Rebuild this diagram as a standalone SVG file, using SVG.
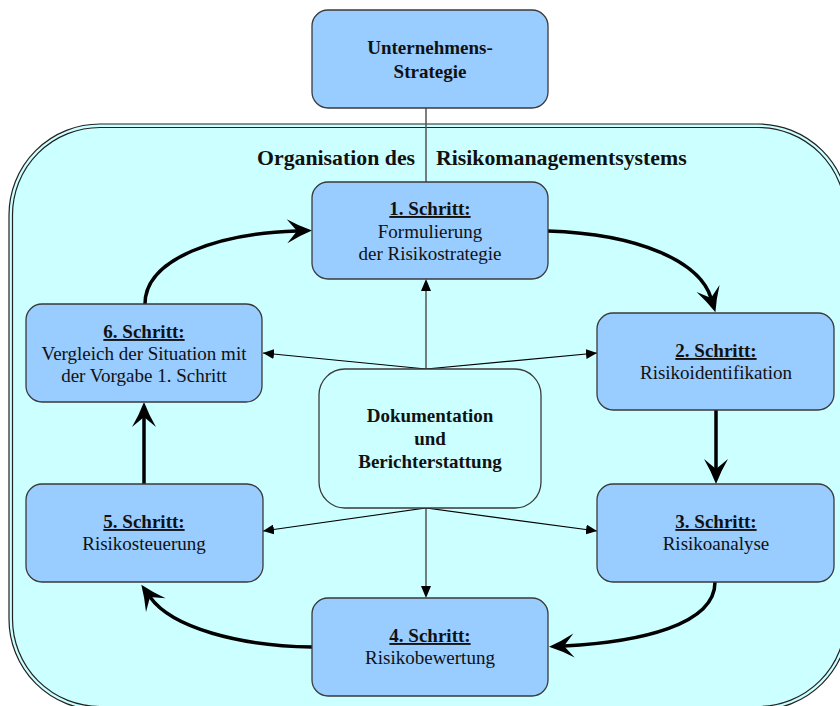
<svg xmlns="http://www.w3.org/2000/svg" width="840" height="706" viewBox="0 0 840 706">
<style>
.box{fill:#99CCFF;stroke:#3a3a3a;stroke-width:1.3}
.doc{fill:#CCFFFF;stroke:#3a3a3a;stroke-width:1.3}
text{font-family:"Liberation Serif","Times New Roman",serif;font-size:19px;fill:#111;text-anchor:middle}
.b{font-weight:bold}
.u{font-weight:bold;text-decoration:underline}
.title{font-weight:bold;font-size:21.8px;text-anchor:start}
.thick{fill:none;stroke:#000;stroke-width:3.5;marker-end:url(#big)}
.thin{fill:none;stroke:#000;stroke-width:1.2;marker-end:url(#small)}
.gray{fill:none;stroke:#555;stroke-width:1.5}
</style>
<defs>
<marker id="big" viewBox="-11 -13 27 26" refX="0" refY="0" markerWidth="27" markerHeight="26" markerUnits="userSpaceOnUse" orient="auto">
<path d="M15,0 Q2,-5 -10,-12 L0,0 L-10,12 Q2,5 15,0 Z" fill="#000"/>
</marker>
<marker id="small" viewBox="0 -5 11 10" refX="11" refY="0" markerWidth="11" markerHeight="10" markerUnits="userSpaceOnUse" orient="auto">
<path d="M0,-5 L11,0 L0,5 Z" fill="#000"/>
</marker>
</defs>
<rect width="840" height="706" fill="#fff"/>
<g id="container">
<rect x="9" y="124" width="840" height="586" rx="91" ry="91" fill="#CCFFFF" stroke="#222" stroke-width="1.2"/>
<rect x="12.5" y="127.5" width="833" height="579" rx="87.5" ry="87.5" fill="none" stroke="#222" stroke-width="1.2"/>
<text class="title" x="257" y="165">Organisation des</text>
<text class="title" x="436" y="165">Risikomanagementsystems</text>
</g>
<g id="connectors">
<line class="gray" x1="426" y1="108" x2="426" y2="182"/>
<line class="gray" x1="426" y1="369" x2="426" y2="290" />
<path d="M426,279 L421,291 L431,291 Z" fill="#000"/>
<path class="thin" d="M426,369 L263,353"/>
<path class="thin" d="M426,369 L597,353"/>
<line class="gray" x1="426" y1="508" x2="426" y2="587"/>
<path d="M426,598 L421,586 L431,586 Z" fill="#000"/>
<path class="thin" d="M426,508 L263,531"/>
<path class="thin" d="M426,508 L597,531"/>
<path class="thick" d="M145,304 C145,258 220,233 297,231"/>
<path class="thick" d="M548,231 C640,234 700,262 711,298"/>
<path class="thick" d="M716,410 L716,469"/>
<path class="thick" d="M715,582 C715,625 640,642 564,646"/>
<path class="thick" d="M312,647 C240,646 172,628 150,597"/>
<path class="thick" d="M144,484 L144,417"/>
</g>
<g id="strategie">
<rect class="box" x="312" y="10" width="236" height="98" rx="16"/>
<text class="b" x="430" y="54">Unternehmens-</text>
<text class="b" x="430" y="78">Strategie</text>
</g>
<g id="schritt1">
<rect class="box" x="312" y="182" width="236" height="97" rx="16"/>
<text class="u" x="430" y="215">1. Schritt:</text>
<text x="430" y="238">Formulierung</text>
<text x="430" y="260">der Risikostrategie</text>
</g>
<g id="schritt2">
<rect class="box" x="597" y="313" width="237" height="97" rx="16"/>
<text class="u" x="716" y="357">2. Schritt:</text>
<text x="716" y="379">Risikoidentifikation</text>
</g>
<g id="schritt3">
<rect class="box" x="597" y="484" width="237" height="98" rx="16"/>
<text class="u" x="716" y="528">3. Schritt:</text>
<text x="716" y="550">Risikoanalyse</text>
</g>
<g id="schritt4">
<rect class="box" x="312" y="598" width="236" height="98" rx="16"/>
<text class="u" x="430" y="642">4. Schritt:</text>
<text x="430" y="664">Risikobewertung</text>
</g>
<g id="schritt5">
<rect class="box" x="26" y="484" width="237" height="98" rx="16"/>
<text class="u" x="144" y="528">5. Schritt:</text>
<text x="144" y="550">Risikosteuerung</text>
</g>
<g id="schritt6">
<rect class="box" x="26" y="304" width="236" height="98" rx="16"/>
<text class="u" x="144" y="338">6. Schritt:</text>
<text x="144" y="360">Vergleich der Situation mit</text>
<text x="144" y="382">der Vorgabe 1. Schritt</text>
</g>
<g id="dokumentation">
<rect class="doc" x="319" y="369" width="222" height="139" rx="26"/>
<text class="b" x="430" y="422">Dokumentation</text>
<text class="b" x="430" y="445">und</text>
<text class="b" x="430" y="468">Berichterstattung</text>
</g>
</svg>
